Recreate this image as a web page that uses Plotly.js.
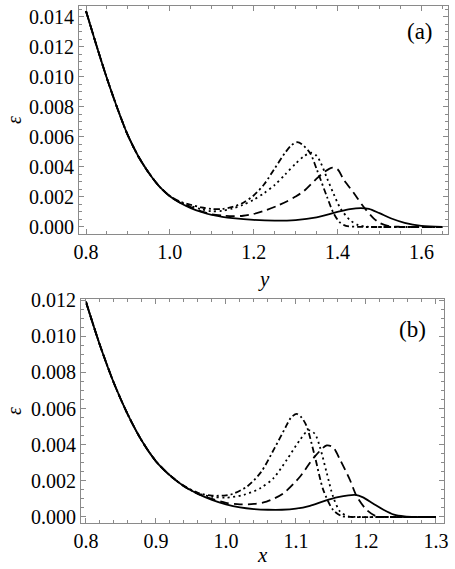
<!DOCTYPE html>
<html>
<head>
<meta charset="utf-8">
<script src="https://cdn.plot.ly/plotly-3.0.1.min.js"></script>
<style>html,body{margin:0;padding:0;background:#fff;}#chart{width:455px;height:569px;}</style>
</head>
<body>
<div id="chart"></div>
<script>
// ---------- Panel (a): epsilon vs y ----------
const aSolidX = [0.80,0.825,0.85,0.875,0.90,0.925,0.95,0.975,1.00,1.025,1.05,1.075,1.10,1.125,1.15,1.20,1.25,1.30,1.35,1.40,1.43,1.455,1.475,1.50,1.53,1.56,1.60,1.65];
const aSolidY = [0.0144,0.0121,0.0099,0.0079,0.0061,0.0047,0.0036,0.0027,0.00205,0.00160,0.00126,0.00100,0.00080,0.00068,0.00059,0.00047,0.00042,0.00046,0.00064,0.00100,0.00119,0.00126,0.00121,0.00092,0.00055,0.00028,0.00008,0.00001];

const aDashDotX = [0.80,0.825,0.85,0.875,0.90,0.925,0.95,0.975,1.00,1.025,1.05,1.075,1.10,1.125,1.15,1.175,1.20,1.225,1.25,1.275,1.29,1.303,1.315,1.335,1.351,1.375,1.39,1.405,1.42,1.45,1.50,1.55,1.60,1.65];
const aDashDotY = [0.0144,0.0121,0.0099,0.0079,0.0061,0.0047,0.0036,0.0027,0.00207,0.00168,0.00148,0.00130,0.00120,0.00120,0.00134,0.00162,0.00210,0.00285,0.00390,0.00495,0.00545,0.00565,0.00552,0.00490,0.00380,0.00200,0.00095,0.00032,0.00008,0.00001,0,0,0,0];

const aDotX = [0.80,0.825,0.85,0.875,0.90,0.925,0.95,0.975,1.00,1.025,1.05,1.075,1.10,1.125,1.15,1.175,1.20,1.225,1.25,1.275,1.30,1.32,1.337,1.35,1.36,1.375,1.39,1.407,1.43,1.45,1.47,1.50,1.55,1.60,1.65];
const aDotY = [0.0144,0.0121,0.0099,0.0079,0.0061,0.0047,0.0036,0.0027,0.00206,0.00165,0.00140,0.00118,0.00105,0.00108,0.00124,0.00148,0.00182,0.00226,0.00280,0.00350,0.00422,0.00472,0.00495,0.00475,0.00428,0.00325,0.00225,0.00124,0.00045,0.00012,0.00002,0,0,0,0];

const aDashX = [0.80,0.825,0.85,0.875,0.90,0.925,0.95,0.975,1.00,1.025,1.05,1.075,1.10,1.125,1.15,1.175,1.20,1.23,1.255,1.28,1.30,1.32,1.35,1.37,1.388,1.40,1.415,1.44,1.462,1.486,1.50,1.52,1.55,1.60,1.65];
const aDashY = [0.0144,0.0121,0.0099,0.0079,0.0061,0.0047,0.0036,0.0027,0.00205,0.00162,0.00132,0.00104,0.00085,0.00076,0.00072,0.00075,0.00087,0.00113,0.00140,0.00172,0.00203,0.00240,0.00322,0.00370,0.00396,0.00385,0.00315,0.00222,0.00135,0.00058,0.00028,0.00007,0.00001,0,0];

// ---------- Panel (b): epsilon vs x ----------
const bSolidX = [0.80,0.82,0.84,0.86,0.88,0.90,0.92,0.94,0.96,0.98,1.00,1.02,1.04,1.06,1.08,1.10,1.12,1.14,1.16,1.175,1.185,1.195,1.21,1.225,1.24,1.255,1.27,1.30];
const bSolidY = [0.0119,0.0095,0.0074,0.00565,0.00420,0.00308,0.00230,0.00170,0.00128,0.00095,0.00070,0.00053,0.00044,0.00040,0.00040,0.00046,0.00062,0.00088,0.00110,0.00120,0.00122,0.00110,0.00075,0.00040,0.00013,0.00003,0,0];

const bDashDotX = [0.80,0.82,0.84,0.86,0.88,0.90,0.92,0.94,0.96,0.98,1.00,1.01,1.03,1.05,1.07,1.085,1.093,1.101,1.108,1.115,1.127,1.139,1.153,1.165,1.18,1.22,1.26,1.30];
const bDashDotY = [0.0119,0.0095,0.0074,0.00565,0.00420,0.00308,0.00230,0.00172,0.00134,0.00118,0.00120,0.00128,0.00168,0.00248,0.00385,0.00495,0.00550,0.00570,0.00550,0.00505,0.00335,0.00150,0.00039,0.00006,0,0,0,0];

const bDotX = [0.80,0.82,0.84,0.86,0.88,0.90,0.92,0.94,0.96,0.98,1.00,1.025,1.049,1.068,1.087,1.106,1.118,1.127,1.134,1.144,1.153,1.163,1.175,1.19,1.23,1.26,1.30];
const bDotY = [0.0119,0.0095,0.0074,0.00565,0.00420,0.00308,0.00230,0.00171,0.00130,0.00112,0.00107,0.00122,0.00159,0.00215,0.00317,0.00428,0.00480,0.00460,0.00390,0.00243,0.00113,0.00030,0.00003,0,0,0,0];

const bDashX = [0.80,0.82,0.84,0.86,0.88,0.90,0.92,0.94,0.96,0.98,1.00,1.02,1.04,1.058,1.082,1.106,1.125,1.144,1.153,1.163,1.177,1.187,1.201,1.215,1.23,1.26,1.30];
const bDashY = [0.0119,0.0095,0.0074,0.00565,0.00420,0.00308,0.00230,0.00170,0.00128,0.00100,0.00078,0.00070,0.00072,0.00085,0.00131,0.00224,0.00326,0.00396,0.00385,0.00317,0.00206,0.00113,0.00039,0.00003,0,0,0];

// tick values
const aYTicks = [0.000,0.002,0.004,0.006,0.008,0.010,0.012,0.014];
const aXTicks = [0.8,1.0,1.2,1.4,1.6];
const bYTicks = [0.000,0.002,0.004,0.006,0.008,0.010,0.012];
const bXTicks = [0.8,0.9,1.0,1.1,1.2,1.3];

const W = 455, H = 569;
const FONT = 'Liberation Serif';
const FRAME = '#8a8a8a';

const styles = {
  solid:   {color:'#000', width:1.8, dash:'solid'},
  dashdot: {color:'#000', width:1.8, dash:'6px,3px,2px,3px'},
  dot:     {color:'#000', width:1.8, dash:'2px,3.5px'},
  dash:    {color:'#000', width:1.8, dash:'9px,5px'}
};
function tr(x, y, st, xa, ya){
  return {x:x, y:y, type:'scatter', mode:'lines', xaxis:xa, yaxis:ya,
    line:Object.assign({shape:'spline', smoothing:0.8}, styles[st]), hoverinfo:'skip', showlegend:false};
}
const data = [
  tr(aDashDotX,aDashDotY,'dashdot','x','y'),
  tr(aDotX,aDotY,'dot','x','y'),
  tr(aDashX,aDashY,'dash','x','y'),
  tr(aSolidX,aSolidY,'solid','x','y'),
  tr(bDashDotX,bDashDotY,'dashdot','x2','y2'),
  tr(bDotX,bDotY,'dot','x2','y2'),
  tr(bDashX,bDashY,'dash','x2','y2'),
  tr(bSolidX,bSolidY,'solid','x2','y2')
];

function axisCommon(){
  return {showgrid:false, zeroline:false, showline:true, linecolor:FRAME, linewidth:1,
    mirror:'allticks', ticks:'inside', ticklen:5, tickwidth:1, tickcolor:FRAME,
    tickfont:{family:FONT, size:20, color:'#000'}, fixedrange:true};
}
const xa = Object.assign(axisCommon(), {domain:[79/W, 448/W], range:[0.7833,1.6635], anchor:'y',
  tickvals:aXTicks, tickformat:'.1f', minor:{dtick:0.05, tick0:0.8, ticks:'inside', ticklen:3, tickcolor:FRAME}});
const ya = Object.assign(axisCommon(), {domain:[1-234/H, 1-6/H], range:[-0.000467,0.01473], anchor:'x',
  tickvals:aYTicks, tickformat:'.3f', minor:{dtick:0.0005, tick0:0, ticks:'inside', ticklen:3, tickcolor:FRAME}});
const xb = Object.assign(axisCommon(), {domain:[81/W, 444/W], range:[0.7929,1.3115], anchor:'y2',
  tickvals:bXTicks, tickformat:'.1f', minor:{dtick:0.02, tick0:0.8, ticks:'inside', ticklen:3, tickcolor:FRAME}});
const yb = Object.assign(axisCommon(), {domain:[1-523/H, 1-299/H], range:[-0.000333,0.01206], anchor:'x2',
  tickvals:bYTicks, tickformat:'.3f', minor:{dtick:0.0005, tick0:0, ticks:'inside', ticklen:3, tickcolor:FRAME}});

const annFont = {family:FONT, size:23, color:'#000'};
const titleFont = {family:FONT, size:21, color:'#000'};
const epsFont = {family:FONT, size:20, color:'#000'};
function ann(o){ return Object.assign({showarrow:false, xanchor:'center', yanchor:'middle'}, o); }
const layout = {
  width:W, height:H, margin:{l:0,r:0,t:0,b:0}, paper_bgcolor:'#fff', plot_bgcolor:'#fff',
  xaxis:xa, yaxis:ya, xaxis2:xb, yaxis2:yb, showlegend:false,
  annotations:[
    ann({text:'(a)', xref:'x domain', yref:'y domain', x:0.924, y:0.886, font:annFont}),
    ann({text:'(b)', xref:'x2 domain', yref:'y2 domain', x:0.912, y:0.862, font:annFont}),
    ann({text:'<i>y</i>', xref:'x domain', yref:'paper', x:0.5, y:1-279/H, font:titleFont}),
    ann({text:'<i>x</i>', xref:'x2 domain', yref:'paper', x:0.5, y:1-555/H, font:titleFont}),
    ann({text:'<i>ε</i>', xref:'paper', yref:'y domain', x:14/W, y:0.5, textangle:-90, font:epsFont}),
    ann({text:'<i>ε</i>', xref:'paper', yref:'y2 domain', x:14/W, y:0.5, textangle:-90, font:epsFont})
  ]
};
Plotly.newPlot('chart', data, layout, {staticPlot:true, displayModeBar:false});
</script>
</body>
</html>
